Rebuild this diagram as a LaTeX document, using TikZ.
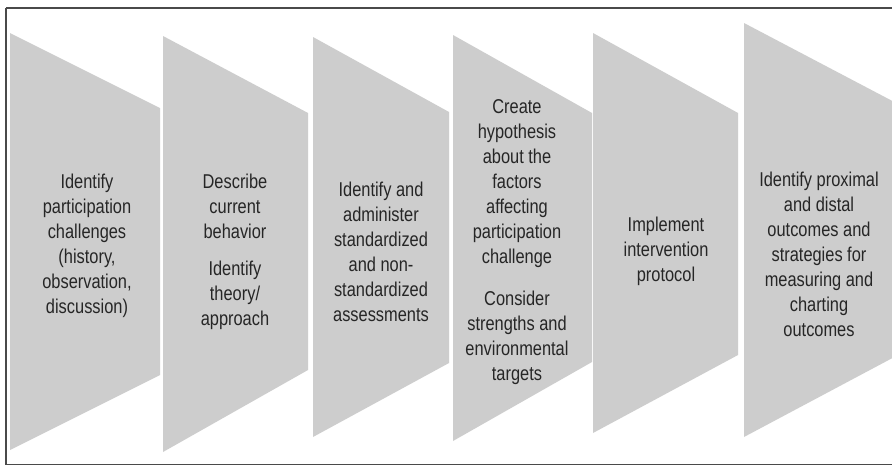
\documentclass[tikz,border=0pt]{standalone}
\usepackage{fontspec}
\setmainfont{Liberation Sans}[FakeStretch=0.82]
\definecolor{chev}{HTML}{CDCDCD}
\definecolor{txt}{HTML}{262626}
\definecolor{frame}{HTML}{4A4A4A}
\newcommand{\myfl}{\rule{0pt}{15pt}}
\begin{document}
\begin{tikzpicture}[x=1pt,y=-1pt,
  chevshape/.style={fill=chev,draw=none},
  label/.style={anchor=north,inner sep=0pt,align=center,text=txt,
    font=\fontsize{20}{25}\selectfont}]
\useasboundingbox (0,0) rectangle (892,466);
\clip (0,0) rectangle (892,466);
\fill[white] (0,0) rectangle (892,466);
% chevron panels
\path[chevshape] (10,33) -- (160,108) -- (160,375) -- (10,450) -- cycle;
\path[chevshape] (163,36) -- (308,113) -- (308,370) -- (163,452) -- cycle;
\path[chevshape] (313,37) -- (449,112) -- (449,363) -- (313,437) -- cycle;
\path[chevshape] (453,35) -- (592,113) -- (592,362) -- (453,441) -- cycle;
\path[chevshape] (593,33) -- (738,113) -- (738,355) -- (593,433) -- cycle;
\path[chevshape] (744,23) -- (900,105) -- (900,354) -- (744,437) -- cycle;
% frame
\draw[frame,line width=1.6pt] (6,8) -- (900,8);
\draw[frame,line width=1.6pt] (6,8) -- (6,464.5) -- (900,464.5);
% texts
\node[label] (t1) at (87,173) {\myfl Identify\\participation\\challenges\\(history,\\observation,\\discussion)};
\node[label] (t2) at (235,173) {\myfl Describe\\current\\behavior\\[12pt]\myfl Identify\\theory/\\approach};
\node[label] (t3) at (381,181) {\myfl Identify and\\administer\\standardized\\and non-\\standardized\\assessments};
\node[label] (t4) at (517,98) {\myfl Create\\hypothesis\\about the\\factors\\affecting\\participation\\challenge\\[17pt]\myfl Consider\\strengths and\\environmental\\targets};
\node[label] (t5) at (666,216) {\myfl Implement\\intervention\\protocol};
\node[label] (t6) at (819,171) {\myfl Identify proximal\\and distal\\outcomes and\\strategies for\\measuring and\\charting\\outcomes};
\end{tikzpicture}
\end{document}
